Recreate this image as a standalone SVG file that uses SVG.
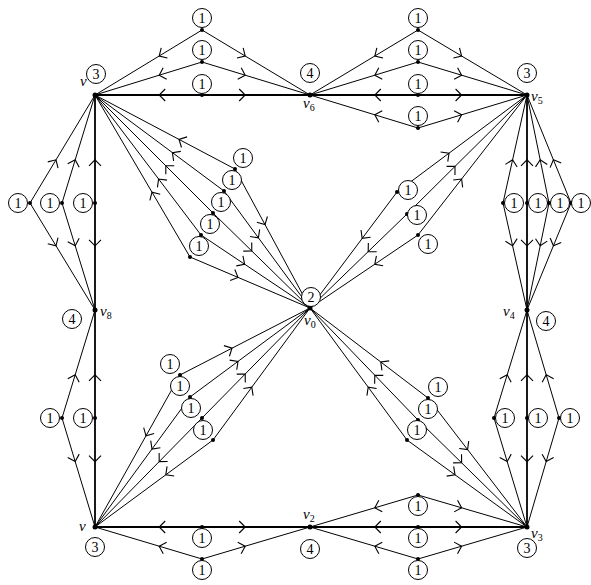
<svg xmlns="http://www.w3.org/2000/svg" width="591" height="585" viewBox="0 0 591 585">
<style>
.e{fill:none;stroke:#000;stroke-width:1;marker-mid:url(#ch)}
.t{stroke-width:1.8}
.d{fill:#000}
.c{fill:#fff;stroke:#000;stroke-width:1}
.n{font-family:"Liberation Serif",serif;font-size:14px;text-anchor:middle}
.l{font-family:"Liberation Serif",serif;font-style:italic;font-size:15px}
.s{font-size:10px;font-style:normal}
</style>
<defs>
<marker id="ch" viewBox="0 0 16 16" markerWidth="16" markerHeight="16" refX="8" refY="8" orient="auto" markerUnits="userSpaceOnUse">
<path d="M2,2 L8,8 L2,14" fill="none" stroke="#000" stroke-width="1.1"/>
</marker>
</defs>
<rect width="591" height="585" fill="#fff"/>
<g id="connectors">
<path class="e" d="M202,30 L159.2,56 L95,95"/>
<path class="e" d="M202,30 L245.2,56 L310,95"/>
<path class="e" d="M202,62 L159.2,75.2 L95,95"/>
<path class="e" d="M202,62 L245.2,75.2 L310,95"/>
<path class="e t" d="M202,95 L159.2,95 L95,95"/>
<path class="e t" d="M202,95 L245.2,95 L310,95"/>
<path class="e" d="M418,30 L374.8,56 L310,95"/>
<path class="e" d="M418,30 L461.6,56 L527,95"/>
<path class="e" d="M418,62 L374.8,75.2 L310,95"/>
<path class="e" d="M418,62 L461.6,75.2 L527,95"/>
<path class="e t" d="M418,95 L374.8,95 L310,95"/>
<path class="e t" d="M418,95 L461.6,95 L527,95"/>
<path class="e" d="M418,128 L374.8,114.8 L310,95"/>
<path class="e" d="M418,128 L461.6,114.8 L527,95"/>
<path class="e" d="M30,203 L56,159.8 L95,95"/>
<path class="e" d="M30,203 L56,245.8 L95,310"/>
<path class="e" d="M62,203 L75.2,159.8 L95,95"/>
<path class="e" d="M62,203 L75.2,245.8 L95,310"/>
<path class="e t" d="M95,203 L95,159.8 L95,95"/>
<path class="e t" d="M95,203 L95,245.8 L95,310"/>
<path class="e" d="M62,418 L75.2,374.8 L95,310"/>
<path class="e" d="M62,418 L75.2,461.6 L95,527"/>
<path class="e t" d="M95,418 L95,374.8 L95,310"/>
<path class="e t" d="M95,418 L95,461.6 L95,527"/>
<path class="e t" d="M202,527 L159.2,527 L95,527"/>
<path class="e t" d="M202,527 L245.2,527 L310,527"/>
<path class="e" d="M202,559 L159.2,546.2 L95,527"/>
<path class="e" d="M202,559 L245.2,546.2 L310,527"/>
<path class="e" d="M418,495 L374.8,507.8 L310,527"/>
<path class="e" d="M418,495 L461.6,507.8 L527,527"/>
<path class="e t" d="M418,527 L374.8,527 L310,527"/>
<path class="e t" d="M418,527 L461.6,527 L527,527"/>
<path class="e" d="M418,559 L374.8,546.2 L310,527"/>
<path class="e" d="M418,559 L461.6,546.2 L527,527"/>
<path class="e" d="M503,203 L512.6,159.8 L527,95"/>
<path class="e" d="M503,203 L512.6,245.8 L527,310"/>
<path class="e t" d="M527,203 L527,159.8 L527,95"/>
<path class="e t" d="M527,203 L527,245.8 L527,310"/>
<path class="e" d="M549,203 L540.2,159.8 L527,95"/>
<path class="e" d="M549,203 L540.2,245.8 L527,310"/>
<path class="e" d="M571,203 L553.4,159.8 L527,95"/>
<path class="e" d="M571,203 L553.4,245.8 L527,310"/>
<path class="e" d="M494,418 L507.2,374.8 L527,310"/>
<path class="e" d="M494,418 L507.2,461.6 L527,527"/>
<path class="e t" d="M527,418 L527,374.8 L527,310"/>
<path class="e t" d="M527,418 L527,461.6 L527,527"/>
<path class="e" d="M559,418 L546.2,374.8 L527,310"/>
<path class="e" d="M559,418 L546.2,461.6 L527,527"/>
<path class="e" d="M235,169 L179,139.4 L95,95"/>
<path class="e" d="M235,169 L265,224.6 L310,308"/>
<path class="e" d="M224,191 L172.4,152.6 L95,95"/>
<path class="e" d="M224,191 L258.4,237.8 L310,308"/>
<path class="e" d="M213,213 L165.8,165.8 L95,95"/>
<path class="e" d="M213,213 L251.8,251 L310,308"/>
<path class="e" d="M201,235 L158.6,179 L95,95"/>
<path class="e" d="M201,235 L244.6,264.2 L310,308"/>
<path class="e" d="M190,257 L152,192.2 L95,95"/>
<path class="e" d="M190,257 L238,277.4 L310,308"/>
<path class="e" d="M397,192 L449,153.2 L527,95"/>
<path class="e" d="M397,192 L362.2,238.4 L310,308"/>
<path class="e" d="M407,214 L455,166.4 L527,95"/>
<path class="e" d="M407,214 L368.2,251.6 L310,308"/>
<path class="e" d="M418,235 L461.6,179 L527,95"/>
<path class="e" d="M418,235 L374.8,264.2 L310,308"/>
<path class="e" d="M180,375 L146,435.8 L95,527"/>
<path class="e" d="M180,375 L232,348.2 L310,308"/>
<path class="e" d="M190,397 L152,449 L95,527"/>
<path class="e" d="M190,397 L238,361.4 L310,308"/>
<path class="e" d="M202,418 L159.2,461.6 L95,527"/>
<path class="e" d="M202,418 L245.2,374 L310,308"/>
<path class="e" d="M213,440 L165.8,474.8 L95,527"/>
<path class="e" d="M213,440 L251.8,387.2 L310,308"/>
<path class="e" d="M428,398 L467.6,449.6 L527,527"/>
<path class="e" d="M428,398 L380.8,362 L310,308"/>
<path class="e" d="M418,420 L461.6,462.8 L527,527"/>
<path class="e" d="M418,420 L374.8,375.2 L310,308"/>
<path class="e" d="M407,440 L455,474.8 L527,527"/>
<path class="e" d="M407,440 L368.2,387.2 L310,308"/>
</g>
<g id="v7"><circle class="d" cx="95" cy="95" r="2.5"/><text class="l" x="80" y="86">v</text><circle class="c" cx="96" cy="74" r="9.5"/><text class="n" x="96" y="79">3</text></g>
<g id="v6"><circle class="d" cx="310" cy="95" r="2.5"/><circle class="c" cx="310" cy="73" r="9.5"/><text class="n" x="310" y="78">4</text><text class="l" x="303" y="108">v<tspan class="s" dy="3">6</tspan></text></g>
<g id="v5"><circle class="d" cx="527" cy="95" r="2.5"/><circle class="c" cx="527" cy="73" r="9.5"/><text class="n" x="527" y="78">3</text><text class="l" x="531" y="101">v<tspan class="s" dy="3">5</tspan></text></g>
<g id="v8"><circle class="d" cx="95" cy="310" r="2.5"/><circle class="c" cx="72" cy="319" r="9.5"/><text class="n" x="72" y="324">4</text><text class="l" x="100" y="316">v<tspan class="s" dy="3">8</tspan></text></g>
<g id="v4"><circle class="d" cx="527" cy="310" r="2.5"/><circle class="c" cx="546" cy="321" r="9.5"/><text class="n" x="546" y="326">4</text><text class="l" x="503" y="316">v<tspan class="s" dy="3">4</tspan></text></g>
<g id="v1"><circle class="d" cx="95" cy="527" r="2.5"/><text class="l" x="79" y="531">v</text><circle class="c" cx="95" cy="547" r="9.5"/><text class="n" x="95" y="552">3</text></g>
<g id="v2"><circle class="d" cx="310" cy="527" r="2.5"/><text class="l" x="303" y="519">v<tspan class="s" dy="3">2</tspan></text><circle class="c" cx="310" cy="549" r="9.5"/><text class="n" x="310" y="554">4</text></g>
<g id="v3"><circle class="d" cx="527" cy="527" r="2.5"/><text class="l" x="531" y="538">v<tspan class="s" dy="3">3</tspan></text><circle class="c" cx="527" cy="548" r="9.5"/><text class="n" x="527" y="553">3</text></g>
<g id="v0"><circle class="d" cx="310" cy="308" r="2.5"/><circle class="c" cx="311" cy="297" r="9.5"/><text class="n" x="311" y="302">2</text><text class="l" x="304" y="325">v<tspan class="s" dy="3">0</tspan></text></g>
<g id="a1"><circle class="d" cx="202" cy="30" r="2"/><circle class="c" cx="202" cy="18" r="9.5"/><text class="n" x="202" y="23">1</text></g>
<g id="a2"><circle class="d" cx="202" cy="62" r="2"/><circle class="c" cx="202" cy="50" r="9.5"/><text class="n" x="202" y="55">1</text></g>
<g id="a3"><circle class="d" cx="202" cy="95" r="2"/><circle class="c" cx="202" cy="84" r="9.5"/><text class="n" x="202" y="89">1</text></g>
<g id="b1"><circle class="d" cx="418" cy="30" r="2"/><circle class="c" cx="418" cy="18" r="9.5"/><text class="n" x="418" y="23">1</text></g>
<g id="b2"><circle class="d" cx="418" cy="62" r="2"/><circle class="c" cx="418" cy="50" r="9.5"/><text class="n" x="418" y="55">1</text></g>
<g id="b3"><circle class="d" cx="418" cy="95" r="2"/><circle class="c" cx="418" cy="84" r="9.5"/><text class="n" x="418" y="89">1</text></g>
<g id="b4"><circle class="d" cx="418" cy="128" r="2"/><circle class="c" cx="418" cy="116" r="9.5"/><text class="n" x="418" y="121">1</text></g>
<g id="c1"><circle class="d" cx="30" cy="203" r="2"/><circle class="c" cx="18" cy="203" r="9.5"/><text class="n" x="18" y="208">1</text></g>
<g id="c2"><circle class="d" cx="62" cy="203" r="2"/><circle class="c" cx="50" cy="203" r="9.5"/><text class="n" x="50" y="208">1</text></g>
<g id="c3"><circle class="d" cx="95" cy="203" r="2"/><circle class="c" cx="83" cy="203" r="9.5"/><text class="n" x="83" y="208">1</text></g>
<g id="d1"><circle class="d" cx="62" cy="418" r="2"/><circle class="c" cx="50" cy="418" r="9.5"/><text class="n" x="50" y="423">1</text></g>
<g id="d2"><circle class="d" cx="95" cy="418" r="2"/><circle class="c" cx="83" cy="418" r="9.5"/><text class="n" x="83" y="423">1</text></g>
<g id="e1"><circle class="d" cx="202" cy="527" r="2"/><circle class="c" cx="202" cy="538" r="9.5"/><text class="n" x="202" y="543">1</text></g>
<g id="e2"><circle class="d" cx="202" cy="559" r="2"/><circle class="c" cx="202" cy="570" r="9.5"/><text class="n" x="202" y="575">1</text></g>
<g id="f1"><circle class="d" cx="418" cy="495" r="2"/><circle class="c" cx="418" cy="506" r="9.5"/><text class="n" x="418" y="511">1</text></g>
<g id="f2"><circle class="d" cx="418" cy="527" r="2"/><circle class="c" cx="418" cy="538" r="9.5"/><text class="n" x="418" y="543">1</text></g>
<g id="f3"><circle class="d" cx="418" cy="559" r="2"/><circle class="c" cx="418" cy="570" r="9.5"/><text class="n" x="418" y="575">1</text></g>
<g id="g1"><circle class="d" cx="503" cy="203" r="2"/><circle class="c" cx="514" cy="203" r="9.5"/><text class="n" x="514" y="208">1</text></g>
<g id="g2"><circle class="d" cx="527" cy="203" r="2"/><circle class="c" cx="538" cy="203" r="9.5"/><text class="n" x="538" y="208">1</text></g>
<g id="g3"><circle class="d" cx="549" cy="203" r="2"/><circle class="c" cx="560" cy="203" r="9.5"/><text class="n" x="560" y="208">1</text></g>
<g id="g4"><circle class="d" cx="571" cy="203" r="2"/><circle class="c" cx="581" cy="203" r="9.5"/><text class="n" x="581" y="208">1</text></g>
<g id="h1"><circle class="d" cx="494" cy="418" r="2"/><circle class="c" cx="505" cy="418" r="9.5"/><text class="n" x="505" y="423">1</text></g>
<g id="h2"><circle class="d" cx="527" cy="418" r="2"/><circle class="c" cx="538" cy="418" r="9.5"/><text class="n" x="538" y="423">1</text></g>
<g id="h3"><circle class="d" cx="559" cy="418" r="2"/><circle class="c" cx="570" cy="418" r="9.5"/><text class="n" x="570" y="423">1</text></g>
<g id="i1"><circle class="d" cx="235" cy="169" r="2"/><circle class="c" cx="243" cy="158" r="9.5"/><text class="n" x="243" y="163">1</text></g>
<g id="i2"><circle class="d" cx="224" cy="191" r="2"/><circle class="c" cx="232" cy="180" r="9.5"/><text class="n" x="232" y="185">1</text></g>
<g id="i3"><circle class="d" cx="213" cy="213" r="2"/><circle class="c" cx="221" cy="202" r="9.5"/><text class="n" x="221" y="207">1</text></g>
<g id="i4"><circle class="d" cx="201" cy="235" r="2"/><circle class="c" cx="210" cy="224" r="9.5"/><text class="n" x="210" y="229">1</text></g>
<g id="i5"><circle class="d" cx="190" cy="257" r="2"/><circle class="c" cx="199" cy="246" r="9.5"/><text class="n" x="199" y="251">1</text></g>
<g id="j1"><circle class="d" cx="397" cy="192" r="2"/><circle class="c" cx="408" cy="190" r="9.5"/><text class="n" x="408" y="195">1</text></g>
<g id="j2"><circle class="d" cx="407" cy="214" r="2"/><circle class="c" cx="417" cy="215" r="9.5"/><text class="n" x="417" y="220">1</text></g>
<g id="j3"><circle class="d" cx="418" cy="235" r="2"/><circle class="c" cx="428" cy="244" r="9.5"/><text class="n" x="428" y="249">1</text></g>
<g id="k1"><circle class="d" cx="180" cy="375" r="2"/><circle class="c" cx="170" cy="364" r="9.5"/><text class="n" x="170" y="369">1</text></g>
<g id="k2"><circle class="d" cx="190" cy="397" r="2"/><circle class="c" cx="180" cy="386" r="9.5"/><text class="n" x="180" y="391">1</text></g>
<g id="k3"><circle class="d" cx="202" cy="418" r="2"/><circle class="c" cx="191" cy="408" r="9.5"/><text class="n" x="191" y="413">1</text></g>
<g id="k4"><circle class="d" cx="213" cy="440" r="2"/><circle class="c" cx="203" cy="430" r="9.5"/><text class="n" x="203" y="435">1</text></g>
<g id="l1"><circle class="d" cx="428" cy="398" r="2"/><circle class="c" cx="438" cy="387" r="9.5"/><text class="n" x="438" y="392">1</text></g>
<g id="l2"><circle class="d" cx="418" cy="420" r="2"/><circle class="c" cx="428" cy="409" r="9.5"/><text class="n" x="428" y="414">1</text></g>
<g id="l3"><circle class="d" cx="407" cy="440" r="2"/><circle class="c" cx="417" cy="430" r="9.5"/><text class="n" x="417" y="435">1</text></g>
</svg>
